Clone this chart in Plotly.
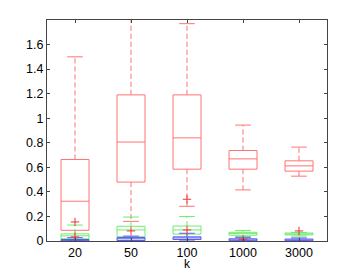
import plotly.graph_objects as go

categories = ["20", "50", "100", "1000", "3000"]

# Red series
red_lower = [0.005, 0.16, 0.283, 0.416, 0.528]
red_q1 = [0.087, 0.48, 0.585, 0.585, 0.569]
red_med = [0.324, 0.806, 0.84, 0.669, 0.612]
red_q3 = [0.664, 1.19, 1.19, 0.737, 0.653]
red_upper = [1.5, 1.95, 1.77, 0.944, 0.765]

# Green series
green_lower = [0.004, 0.005, 0.01, 0.035, 0.04]
green_q1 = [0.018, 0.035, 0.056, 0.047, 0.05]
green_med = [0.042, 0.09, 0.09, 0.062, 0.057]
green_q3 = [0.058, 0.12, 0.122, 0.071, 0.065]
green_upper = [0.13, 0.195, 0.2, 0.086, 0.07]

# Blue series
blue_lower = [0.0, 0.0, 0.0, 0.0, 0.0]
blue_q1 = [0.001, 0.004, 0.012, 0.002, 0.002]
blue_med = [0.006, 0.018, 0.025, 0.009, 0.008]
blue_q3 = [0.012, 0.028, 0.034, 0.018, 0.016]
blue_upper = [0.027, 0.04, 0.063, 0.03, 0.025]

# Outliers (red '+')
out_cat = [1, 1, 2, 3, 3, 4, 5]
out_val = [0.155, 0.033, 0.082, 0.34, 0.09, 0.014, 0.082]

W = 0.25   # half box width
C = 0.14   # half cap width

fig = go.Figure()


def add_series(lower, q1, med, q3, upper, color):
    bx, by, mx, my, wx, wy, cx, cy = [], [], [], [], [], [], [], []
    for i in range(len(categories)):
        c = i + 1
        bx += [c - W, c + W, c + W, c - W, c - W, None]
        by += [q1[i], q1[i], q3[i], q3[i], q1[i], None]
        mx += [c - W, c + W, None]
        my += [med[i], med[i], None]
        wx += [c, c, None, c, c, None]
        wy += [q3[i], upper[i], None, q1[i], lower[i], None]
        cx += [c - C, c + C, None, c - C, c + C, None]
        cy += [upper[i], upper[i], None, lower[i], lower[i], None]
    fig.add_trace(go.Scatter(x=wx, y=wy, mode="lines",
                             line=dict(color=color, width=1, dash="5px,3px"),
                             hoverinfo="skip"))
    fig.add_trace(go.Scatter(x=cx, y=cy, mode="lines",
                             line=dict(color=color, width=1), hoverinfo="skip"))
    fig.add_trace(go.Scatter(x=bx, y=by, mode="lines",
                             line=dict(color=color, width=1), hoverinfo="skip"))
    fig.add_trace(go.Scatter(x=mx, y=my, mode="lines",
                             line=dict(color=color, width=1), hoverinfo="skip"))


add_series(red_lower, red_q1, red_med, red_q3, red_upper, "rgb(255,115,115)")
add_series(green_lower, green_q1, green_med, green_q3, green_upper, "rgb(110,235,110)")
add_series(blue_lower, blue_q1, blue_med, blue_q3, blue_upper, "rgb(90,90,245)")

fig.add_trace(go.Scatter(x=out_cat, y=out_val, mode="markers",
                         marker=dict(symbol="cross-thin", size=6,
                                     line=dict(color="rgb(240,50,50)", width=1)),
                         hoverinfo="skip"))

fig.update_layout(
    width=362, height=273,
    margin=dict(l=47, r=35, t=20, b=32),
    paper_bgcolor="white", plot_bgcolor="white",
    showlegend=False,
    font=dict(family="Liberation Sans, Arial, sans-serif", size=12.5, color="black"),
    annotations=[dict(text="k", x=0.5, y=-0.1385, xref="paper", yref="paper",
                      xanchor="center", yanchor="bottom", showarrow=False,
                      font=dict(size=12), borderpad=0)],
)
fig.update_xaxes(
    range=[0.5, 5.5],
    tickvals=[1, 2, 3, 4, 5], ticktext=categories,
    ticks="inside", ticklen=3, tickcolor="#444",
    showline=True, linecolor="#444", linewidth=1, mirror="ticks",
    showgrid=False, zeroline=False, automargin=False,
)
fig.update_yaxes(
    range=[0, 1.8],
    tickvals=[0, 0.2, 0.4, 0.6, 0.8, 1.0, 1.2, 1.4, 1.6],
    ticktext=["0", "0.2", "0.4", "0.6", "0.8", "1", "1.2", "1.4", "1.6"],
    ticks="inside", ticklen=3, tickcolor="#444",
    showline=True, linecolor="#444", linewidth=1, mirror="ticks",
    showgrid=False, zeroline=False, automargin=False,
)

fig.write_html("out.html",
               config={"displayModeBar": False, "staticPlot": True},
               post_script="document.body.style.margin='0';document.body.style.overflow='hidden';")
